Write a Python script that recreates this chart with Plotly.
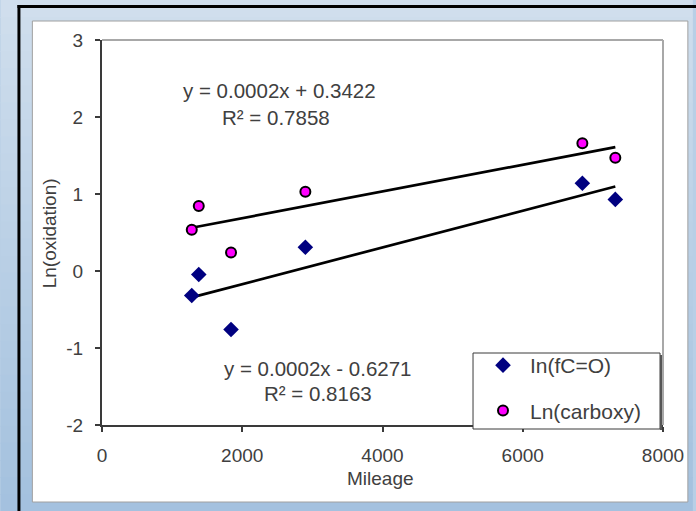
import plotly.graph_objects as go
import numpy as np

# ---- data ----
mileage = [1280, 1380, 1840, 2900, 6850, 7320]
ln_fco = [-0.318, -0.045, -0.76, 0.309, 1.14, 0.93]
ln_carboxy = [0.535, 0.843, 0.24, 1.03, 1.66, 1.47]
series_names = ["In(fC=O)", "Ln(carboxy)"]
eq_carboxy = ["y = 0.0002x + 0.3422", "R² = 0.7858"]
eq_fco = ["y = 0.0002x - 0.6271", "R² = 0.8163"]
x_ticks = [0, 2000, 4000, 6000, 8000]
x_tick_labels = ["0", "2000", "4000", "6000", "8000"]
y_ticks = [-2, -1, 0, 1, 2, 3]
y_tick_labels = ["-2", "-1", "0", "1", "2", "3"]
x_title = "Mileage"
y_title = "Ln(oxidation)"

W, H = 696, 511
L, R, T, B = 102, 666, 40, 425
FONT = "Liberation Sans, Arial, sans-serif"
TXT = "#404040"


def px(x):
    return (x - L) / (R - L)


def py(y):
    return (B - y) / (B - T)


fig = go.Figure()

# trendlines (least squares fit, drawn over the data range)
for ys in (ln_carboxy, ln_fco):
    k, b = np.polyfit(mileage, ys, 1)
    xs = [min(mileage), max(mileage)]
    fig.add_trace(go.Scatter(x=xs, y=[k * v + b for v in xs], mode="lines",
                             line=dict(color="black", width=2.7),
                             showlegend=False, hoverinfo="skip"))

fig.add_trace(go.Scatter(x=mileage, y=ln_fco, mode="markers", name=series_names[0],
                         legendgroup="a",
                         marker=dict(symbol="diamond", size=12, color="#000080",
                                     line=dict(width=0))))
fig.add_trace(go.Scatter(x=mileage, y=ln_carboxy, mode="markers", name=series_names[1],
                         legendgroup="b",
                         marker=dict(symbol="circle", size=10, color="#ff00ff",
                                     line=dict(color="black", width=2))))

shapes = []
# gradient background strips
n = 30
c0 = np.array([0xd0, 0xde, 0xed])
c1 = np.array([0xa4, 0xc1, 0xdf])
for i in range(n):
    t = i / (n - 1)
    c = (c0 * (1 - t) + c1 * t).astype(int)
    y0 = i * H / n
    y1 = (i + 1) * H / n + 1
    shapes.append(dict(type="rect", xref="paper", yref="paper", layer="below",
                       x0=px(0), x1=px(W), y0=py(y1), y1=py(y0),
                       fillcolor="rgb(%d,%d,%d)" % tuple(c), line=dict(width=0)))
# black frame (top and left)
shapes.append(dict(type="rect", xref="paper", yref="paper", layer="below",
                   x0=px(17), x1=px(W + 5), y0=py(8), y1=py(5),
                   fillcolor="black", line=dict(width=0)))
shapes.append(dict(type="rect", xref="paper", yref="paper", layer="below",
                   x0=px(17), x1=px(20), y0=py(H + 5), y1=py(5),
                   fillcolor="black", line=dict(width=0)))
# white chart area
shapes.append(dict(type="rect", xref="paper", yref="paper", layer="below",
                   x0=px(32), x1=px(691), y0=py(502), y1=py(21),
                   fillcolor="white", line=dict(color="#a0a0a0", width=1)))
# plot frame top/right (gray)
shapes.append(dict(type="line", xref="paper", yref="paper", layer="below",
                   x0=0, x1=1, y0=1, y1=1, line=dict(color="#a8a8a8", width=2)))
shapes.append(dict(type="line", xref="paper", yref="paper", layer="below",
                   x0=1, x1=1, y0=0, y1=1, line=dict(color="#a8a8a8", width=2)))
# legend box (drawn as a shape, legend itself is transparent on top)
shapes.append(dict(type="rect", xref="paper", yref="paper", layer="above",
                   x0=px(475), x1=px(663), y0=py(429), y1=py(353),
                   fillcolor="white", line=dict(color="#3a3a3a", width=1)))
shapes.append(dict(type="line", xref="paper", yref="paper", layer="above",
                   x0=px(664), x1=px(664), y0=py(430), y1=py(355),
                   line=dict(color="#555555", width=2)))

annotations = []


def add_text(text, x, y, size=20, angle=0):
    annotations.append(dict(text=text, xref="paper", yref="paper", x=px(x), y=py(y),
                            xanchor="center", yanchor="middle", showarrow=False,
                            textangle=angle, font=dict(family=FONT, size=size, color=TXT)))


add_text(eq_carboxy[0], 280, 90, size=20.5)
add_text(eq_carboxy[1], 277, 118, size=20.5)
add_text(eq_fco[0], 319, 368, size=20.5)
add_text(eq_fco[1], 319, 393, size=20.5)
add_text(x_title, 382, 478, size=19)
add_text(y_title, 49, 233, size=19, angle=-90)

axis_common = dict(showgrid=False, zeroline=False, showline=True, linecolor="#3a3a3a",
                   linewidth=2, ticks="outside", ticklen=5, tickwidth=1.5, tickcolor="#3a3a3a",
                   tickfont=dict(family=FONT, size=19, color=TXT))

fig.update_layout(
    width=W, height=H,
    margin=dict(l=L, r=W - R, t=T, b=H - B),
    paper_bgcolor="#b8cfe6", plot_bgcolor="rgba(0,0,0,0)",
    xaxis=dict(range=[0, 8000], tickvals=x_ticks, ticktext=x_tick_labels,
               ticklabelstandoff=7, **axis_common),
    yaxis=dict(range=[-2, 3], tickvals=y_ticks, ticktext=y_tick_labels,
               ticklabelstandoff=8, **axis_common),
    shapes=shapes, annotations=annotations,
    showlegend=True,
    legend=dict(x=px(478), y=py(345), xanchor="left", yanchor="top",
                bgcolor="rgba(0,0,0,0)", borderwidth=0,
                font=dict(family=FONT, size=21, color=TXT),
                tracegroupgap=15, traceorder="grouped", itemwidth=44),
)

fig.write_html("out.html", config={"displayModeBar": False},
               post_script="document.body.style.margin='0';document.body.style.overflow='hidden';")
